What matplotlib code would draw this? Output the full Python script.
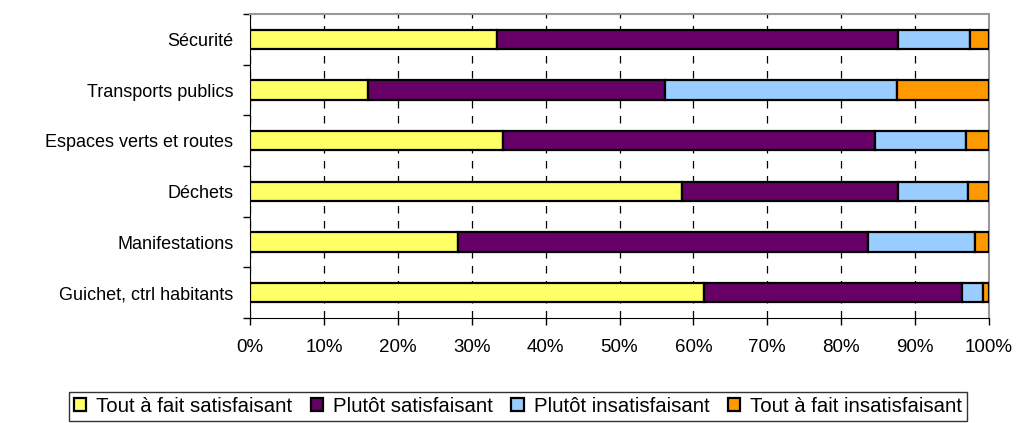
import matplotlib
matplotlib.use("Agg")
import matplotlib.pyplot as plt
import numpy as np
from matplotlib.ticker import FixedLocator, PercentFormatter

plt.rcParams['font.family'] = ['Liberation Sans', 'DejaVu Sans']

categories = ["Sécurité", "Transports publics", "Espaces verts et routes",
              "Déchets", "Manifestations", "Guichet, ctrl habitants"]
series_names = ["Tout à fait satisfaisant", "Plutôt satisfaisant",
                "Plutôt insatisfaisant", "Tout à fait insatisfaisant"]
tout_satisf = [33.4, 15.9, 34.2, 58.5, 28.2, 61.4]
plutot_satisf = [54.3, 40.3, 50.4, 29.2, 55.4, 35.0]
plutot_insatisf = [9.7, 31.3, 12.3, 9.5, 14.5, 2.8]
tout_insatisf = [2.6, 12.5, 3.1, 2.8, 1.9, 0.8]
colors = ["#FFFF66", "#660066", "#99CCFF", "#FF9900"]

series = [tout_satisf, plutot_satisf, plutot_insatisf, tout_insatisf]

fig = plt.figure(figsize=(10.16, 4.23), dpi=100)
ax = fig.add_axes([250/1016, 1-318/423, (989-250)/1016, (318-14)/423])

y = np.arange(len(categories))
left = np.zeros(len(categories))
for vals, name, c in zip(series, series_names, colors):
    ax.barh(y, vals, left=left, height=0.38, color=c, edgecolor='black',
            linewidth=1.6, label=name, zorder=3)
    left += np.array(vals)

ax.set_xlim(0, 100)
ax.set_ylim(len(categories) - 0.5, -0.5)
ax.set_yticks(y)
ax.set_yticklabels(categories, fontsize=13)
ax.yaxis.set_minor_locator(FixedLocator(np.arange(-0.5, len(categories), 1)))
ax.tick_params(axis='y', which='major', length=0, pad=12)
ax.tick_params(axis='y', which='minor', length=5, width=1, direction='out')
ax.set_xticks(np.arange(0, 101, 10))
ax.xaxis.set_major_formatter(PercentFormatter(decimals=0))
ax.tick_params(axis='x', length=5, width=1, direction='out', labelsize=13.5, pad=10)

ax.grid(axis='x', color='black', linestyle=(0, (6, 6)), linewidth=0.9, zorder=0)
for s in ['top', 'right']:
    ax.spines[s].set_color('#999999')
    ax.spines[s].set_linewidth(1.5)
ax.spines['left'].set_color('black')
ax.spines['bottom'].set_color('black')

leg = fig.legend(loc='upper center', bbox_to_anchor=(518/1016, 1-392/423), ncol=4,
                 fontsize=14.7, frameon=True, fancybox=False, edgecolor='black',
                 handlelength=0.6, handleheight=0.6, handletextpad=0.5,
                 columnspacing=0.9, borderpad=0.25, borderaxespad=0)
leg.get_frame().set_linewidth(1.0)

fig.savefig("out.png", dpi=100)
